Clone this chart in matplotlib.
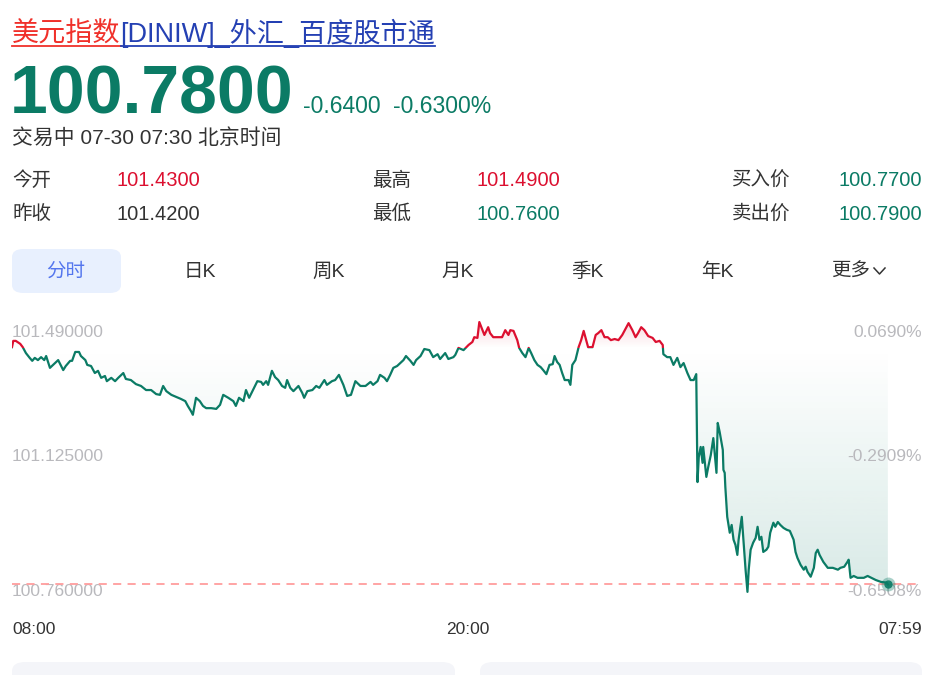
import numpy as np
import matplotlib
matplotlib.use("Agg")
import matplotlib.pyplot as plt
import matplotlib.transforms as mtransforms
from matplotlib.colors import to_rgb
from matplotlib.patches import FancyBboxPatch, Rectangle
from matplotlib.lines import Line2D

plt.rcParams['font.family'] = ['Liberation Sans', 'Noto Sans CJK SC', 'DejaVu Sans']

W, H = 948, 675
GREEN = "#0b7b65"
RED = "#dc1030"
GRAY = "#b9b9bd"
DARK = "#333333"

# ── Data (minutes after 08:00, price) ─────────────────────────────────────────
minutes = [
    0, 2, 6, 13, 17, 22, 28, 32, 36, 41, 46, 51, 54, 60, 65, 73, 81, 85, 92, 95,
    100, 106, 109, 116, 119, 125, 131, 136, 141, 147, 150, 157, 163, 168, 176, 180,
    188, 196, 204, 212, 220, 228, 234, 239, 244, 252, 260, 267, 274, 278, 283, 286,
    291, 297, 302, 307, 315, 323, 329, 334, 342, 350, 354, 359, 366, 370, 375, 381,
    388, 394, 397, 402, 405, 411, 416, 421, 427, 432, 435, 440, 445, 453, 459, 462,
    467, 475, 481, 486, 494, 498, 506, 511, 517, 524, 530, 536, 543, 551, 559, 567,
    571, 578, 582, 589, 593, 598, 603, 609, 614, 619, 623, 630, 635, 639, 646, 652,
    660, 666, 673, 677, 685, 690, 698, 701, 706, 714, 722, 728, 731, 736, 739, 744,
    747, 753, 756, 761, 769, 775, 780, 785, 788, 793, 799, 802, 807, 812, 817, 821,
    826, 831, 836, 840, 845, 850, 855, 858, 862, 866, 870, 874, 880, 883, 886, 891,
    896, 900, 904, 908, 911, 918, 923, 927, 932, 937, 942, 947, 953, 959, 965, 971,
    975, 981, 986, 990, 995, 1000, 1006, 1013, 1018, 1024, 1029, 1030, 1036, 1041,
    1046, 1052, 1057, 1062, 1068, 1073, 1078, 1082, 1084, 1086, 1089, 1092, 1093,
    1098, 1101, 1105, 1109, 1111, 1114, 1116, 1119, 1124, 1125, 1127, 1128, 1131,
    1135, 1138, 1141, 1144, 1147, 1149, 1154, 1157, 1160, 1163, 1165, 1168, 1172,
    1176, 1179, 1182, 1185, 1188, 1193, 1196, 1199, 1204, 1207, 1211, 1215, 1220,
    1225, 1230, 1236, 1239, 1242, 1247, 1252, 1255, 1258, 1263, 1268, 1271, 1274,
    1277, 1283, 1290, 1298, 1306, 1310, 1316, 1321, 1323, 1326, 1331, 1337, 1347,
    1353, 1359, 1366, 1374, 1383, 1385,
]
prices = [
    101.422, 101.439, 101.439, 101.431, 101.422, 101.406, 101.393, 101.385, 101.393,
    101.387, 101.395, 101.387, 101.398, 101.366, 101.374, 101.387, 101.360, 101.371,
    101.385, 101.385, 101.409, 101.409, 101.398, 101.387, 101.374, 101.371, 101.352,
    101.358, 101.339, 101.344, 101.330, 101.339, 101.330, 101.339, 101.352, 101.336,
    101.333, 101.322, 101.317, 101.306, 101.306, 101.295, 101.293, 101.317, 101.303,
    101.293, 101.287, 101.282, 101.276, 101.263, 101.249, 101.239, 101.285, 101.276,
    101.263, 101.257, 101.257, 101.255, 101.266, 101.293, 101.285, 101.276, 101.263,
    101.285, 101.276, 101.306, 101.285, 101.306, 101.330, 101.328, 101.320, 101.330,
    101.320, 101.358, 101.341, 101.333, 101.317, 101.312, 101.333, 101.312, 101.303,
    101.317, 101.298, 101.285, 101.303, 101.306, 101.317, 101.312, 101.333, 101.320,
    101.330, 101.333, 101.347, 101.320, 101.290, 101.293, 101.330, 101.317, 101.317,
    101.328, 101.320, 101.330, 101.347, 101.339, 101.330, 101.347, 101.366, 101.371,
    101.379, 101.387, 101.398, 101.385, 101.374, 101.387, 101.398, 101.417, 101.414,
    101.395, 101.403, 101.390, 101.406, 101.390, 101.395, 101.401, 101.420, 101.414,
    101.428, 101.436, 101.449, 101.447, 101.490, 101.468, 101.455, 101.476, 101.460,
    101.449, 101.449, 101.449, 101.468, 101.455, 101.468, 101.466, 101.441, 101.420,
    101.406, 101.395, 101.420, 101.406, 101.387, 101.374, 101.368, 101.360, 101.349,
    101.374, 101.376, 101.398, 101.382, 101.374, 101.352, 101.333, 101.333, 101.320,
    101.374, 101.387, 101.422, 101.441, 101.466, 101.441, 101.422, 101.422, 101.455,
    101.460, 101.468, 101.449, 101.449, 101.441, 101.444, 101.441, 101.455, 101.474,
    101.487, 101.468, 101.449, 101.460, 101.476, 101.468, 101.452, 101.447, 101.436,
    101.439, 101.428, 101.403, 101.395, 101.395, 101.374, 101.393, 101.368, 101.379,
    101.352, 101.333, 101.333, 101.349, 101.057, 101.125, 101.152, 101.109, 101.152,
    101.071, 101.098, 101.130, 101.176, 101.139, 101.082, 101.217, 101.193, 101.144,
    101.090, 101.082, 101.044, 100.963, 100.920, 100.941, 100.901, 100.887, 100.860,
    100.901, 100.963, 100.893, 100.820, 100.760, 100.820, 100.874, 100.893, 100.906,
    100.936, 100.901, 100.909, 100.868, 100.874, 100.882, 100.920, 100.947, 100.936,
    100.949, 100.941, 100.933, 100.928, 100.925, 100.901, 100.868, 100.852, 100.833,
    100.820, 100.828, 100.814, 100.801, 100.825, 100.865, 100.874, 100.860, 100.841,
    100.825, 100.825, 100.820, 100.825, 100.828, 100.841, 100.847, 100.798, 100.803,
    100.798, 100.798, 100.803, 100.798, 100.792, 100.787, 100.785, 100.780,
]

prev_close = 101.42
last_price = 100.78
axis_values = [101.49, 101.125, 100.76]
axis_labels = ["101.490000", "101.125000", "100.760000"]
pct_labels = ["0.0690%", "-0.2909%", "-0.6508%"]
time_ticks = [0, 720, 1439]
time_labels = ["08:00", "20:00", "07:59"]

quote_rows = [
    [("今开", "101.4300", RED), ("最高", "101.4900", RED), ("买入价", "100.7700", GREEN)],
    [("昨收", "101.4200", DARK), ("最低", "100.7600", GREEN), ("卖出价", "100.7900", GREEN)],
]
tabs = ["分时", "日K", "周K", "月K", "季K", "年K", "更多"]


def fx(px):
    return px / W


def fy(py):
    return 1 - py / H


fig = plt.figure(figsize=(W / 100, H / 100), dpi=100)
renderer = fig.canvas.get_renderer()

# ── Header ────────────────────────────────────────────────────────────────────
t1 = fig.text(fx(12), fy(42), "美元指数", color="#f0302a", fontsize=19.5, va="baseline")
bb1 = t1.get_window_extent(renderer)
t2 = fig.text(bb1.x1 / W, fy(42), "[DINIW]_外汇_百度股市通", color="#2440b3",
              fontsize=19.5, va="baseline")
bb2 = t2.get_window_extent(renderer)
fig.add_artist(Line2D([bb1.x0 / W, bb1.x1 / W], [fy(46)] * 2, color="#f0302a", lw=1.3))
fig.add_artist(Line2D([bb2.x0 / W, bb2.x1 / W], [fy(46)] * 2, color="#2440b3", lw=1.3))

fig.text(fx(10), fy(113), "100.7800", color=GREEN, fontsize=49, fontweight="bold",
         va="baseline")
fig.text(fx(303), fy(113), "-0.6400", color=GREEN, fontsize=16.5, va="baseline")
fig.text(fx(393), fy(113), "-0.6300%", color=GREEN, fontsize=16.5, va="baseline")
fig.text(fx(12), fy(138), "交易中 07-30 07:30 北京时间", color=DARK, fontsize=15,
         va="center")

# ── Quote table ───────────────────────────────────────────────────────────────
label_x = [12, 372, 732]
value_x = [117, 477, 922]
value_ha = ["left", "left", "right"]
for row, yy in zip(quote_rows, [181, 214]):
    for i, (lab, val, col) in enumerate(row):
        fig.text(fx(label_x[i]), fy(yy), lab, color=DARK, fontsize=14, va="center")
        fig.text(fx(value_x[i]), fy(yy), val, color=col, fontsize=14.5, va="center",
                 ha=value_ha[i])

# ── Tabs ──────────────────────────────────────────────────────────────────────
fig.add_artist(FancyBboxPatch((fx(12), fy(293)), fx(109), 44 / H,
                              boxstyle="round,pad=0,rounding_size=0.012",
                              transform=fig.transFigure, fc="#e8f0fe", ec="none"))
tab_x = [66, 200, 329, 458, 587, 717, 851]
for i, (tab, xx) in enumerate(zip(tabs, tab_x)):
    fig.text(fx(xx), fy(272), tab, color="#5476ee" if i == 0 else DARK, fontsize=14,
             ha="center", va="center")
# small chevron after 更多
fig.add_artist(Line2D([fx(874), fx(879.5), fx(885)], [fy(268), fy(274), fy(268)],
                      color=DARK, lw=1.1))

# ── Chart ─────────────────────────────────────────────────────────────────────
ax = fig.add_axes([fx(12), fy(600), (922 - 12) / W, 285 / H])
ax.set_axis_off()
x0, x1 = 0, 1439
y0, y1 = 100.738, 101.509

# gradient areas between price and previous close
poly = ax.fill_between(minutes, prices, prev_close, color="none", lw=0)
clip = poly.get_paths()[0]

g = np.linspace(0, 1, 256).reshape(-1, 1)
img_g = np.zeros((256, 1, 4))
img_g[..., :3] = to_rgb(GREEN)
img_g[..., 3] = g * 0.16
im_g = ax.imshow(img_g, extent=(x0, minutes[-1], min(axis_values), prev_close),
                 origin="upper", aspect="auto", zorder=1, interpolation="bilinear")
im_g.set_clip_path(clip, transform=ax.transData)

img_r = np.zeros((256, 1, 4))
img_r[..., :3] = to_rgb(RED)
img_r[..., 3] = g * 0.16
im_r = ax.imshow(img_r, extent=(x0, minutes[-1], prev_close, max(axis_values)),
                 origin="lower", aspect="auto", zorder=1, interpolation="bilinear")
im_r.set_clip_path(clip, transform=ax.transData)

ax.axhline(last_price, color="#ff9d9d", lw=1.3, ls=(0, (4.5, 3.5)), zorder=3)

line_r, = ax.plot(minutes, prices, color=RED, lw=1.6, zorder=4)
line_r.set_clip_path(Rectangle((x0, prev_close), x1, 1, transform=ax.transData))
line_g, = ax.plot(minutes, prices, color=GREEN, lw=1.6, zorder=4)
line_g.set_clip_path(Rectangle((x0, prev_close - 1), x1, 1, transform=ax.transData))

ax.plot(minutes[-1], prices[-1], "o", ms=10, color=GREEN, alpha=0.35, mec="none", zorder=5)
ax.plot(minutes[-1], prices[-1], "o", ms=6, color=GREEN, alpha=0.9, mec="none", zorder=5)

ax.set_xlim(x0, x1)
ax.set_ylim(y0, y1)

yt = mtransforms.blended_transform_factory(ax.transAxes, ax.transData)
for v, lab, pct, va in zip(axis_values, axis_labels, pct_labels, ["top", "center", "center"]):
    off = mtransforms.ScaledTranslation(0, -2 / 72 if va == "top" else 0, fig.dpi_scale_trans)
    ax.text(0, v, lab, transform=yt + off, color=GRAY, fontsize=12.5, ha="left", va=va,
            zorder=2)
    ax.text(1, v, pct, transform=yt + off, color=GRAY, fontsize=12.5, ha="right", va=va,
            zorder=2)

xt = mtransforms.blended_transform_factory(ax.transData, fig.transFigure)
for t, lab, ha in zip(time_ticks, time_labels, ["left", "center", "right"]):
    ax.text(t, fy(630), lab, transform=xt, color=DARK, fontsize=12.5, ha=ha, va="center",
            clip_on=False)

# ── Bottom cards ──────────────────────────────────────────────────────────────
for cx0, cx1 in [(12, 455), (480, 922)]:
    fig.add_artist(FancyBboxPatch((fx(cx0), fy(690)), (cx1 - cx0) / W, 28 / H,
                                  boxstyle="round,pad=0,rounding_size=0.014",
                                  transform=fig.transFigure, fc="#f4f5f9", ec="none"))

fig.savefig("out.png", dpi=100)
